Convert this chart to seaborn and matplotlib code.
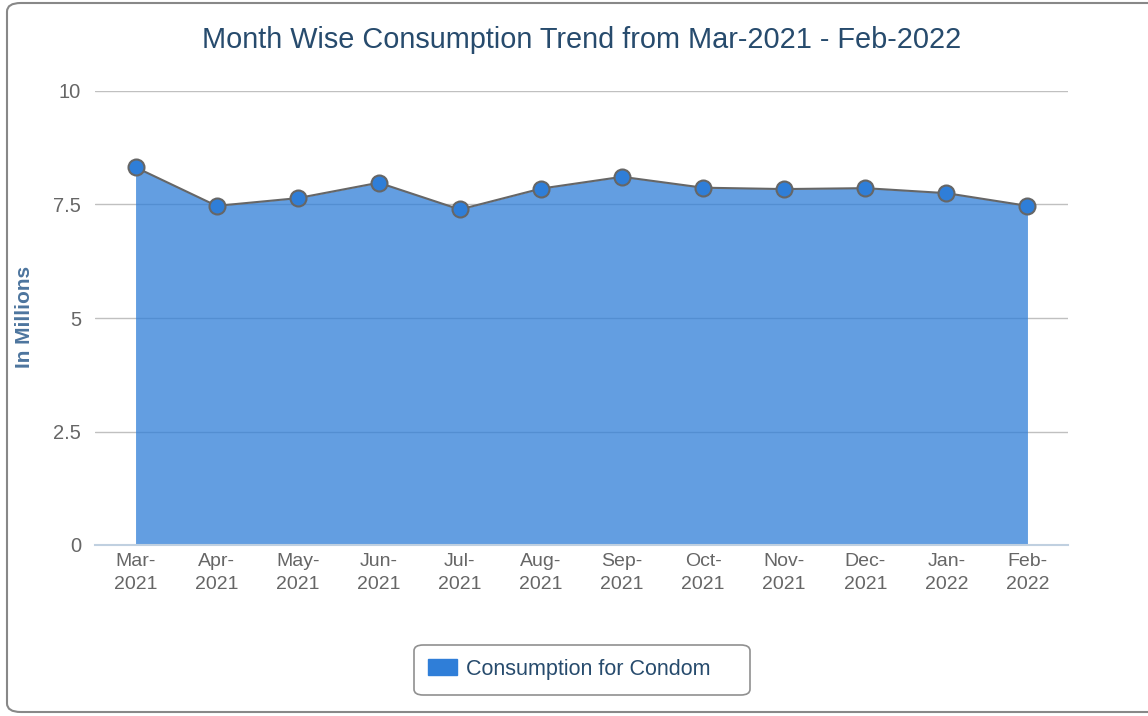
import matplotlib
matplotlib.use("Agg")
import matplotlib.pyplot as plt
from matplotlib.patches import FancyBboxPatch, Patch
import seaborn as sns
import pandas as pd

months = ["Mar-\n2021", "Apr-\n2021", "May-\n2021", "Jun-\n2021", "Jul-\n2021", "Aug-\n2021",
          "Sep-\n2021", "Oct-\n2021", "Nov-\n2021", "Dec-\n2021", "Jan-\n2022", "Feb-\n2022"]
consumption = [8.32, 7.47, 7.64, 7.98, 7.39, 7.85, 8.11, 7.87, 7.84, 7.86, 7.75, 7.47]
y_ticks = [0, 2.5, 5, 7.5, 10]
y_tick_labels = ["0", "2.5", "5", "7.5", "10"]
series_name = "Consumption for Condom"
title = "Month Wise Consumption Trend from Mar-2021 - Feb-2022"

sns.set_theme(style="white")
plt.rcParams['font.family'] = ['Liberation Sans', 'DejaVu Sans']

df = pd.DataFrame({"idx": range(len(months)), "value": consumption})

fig = plt.figure(figsize=(11.48, 7.16), dpi=100)
ax = fig.add_axes([95/1148, 1-545/716, (1068-95)/1148, (545-91)/716])

# grid
for t in y_ticks[1:]:
    ax.axhline(t, color="#c0c0c0", lw=1.0, zorder=0)

ax.fill_between(df["idx"], df["value"], 0, color="#2f7ed8", alpha=0.75, lw=0, zorder=1)
sns.lineplot(data=df, x="idx", y="value", ax=ax, color="#666666", lw=1.5, zorder=2,
             marker="o", markersize=11.5, markerfacecolor="#2f7ed8", markeredgecolor="#666666",
             markeredgewidth=1.5)

ax.set_xlim(-0.5, len(months) - 0.5)
ax.set_ylim(0, 10)
ax.set_xticks(range(len(months)))
ax.set_xticklabels(months, color="#666666", fontsize=14, linespacing=1.4)
ax.set_yticks(y_ticks)
ax.set_yticklabels(y_tick_labels, color="#666666", fontsize=14.5)
ax.tick_params(axis="x", length=6, width=1, color="#c0d0e0", pad=0)
ax.tick_params(axis="y", length=0, pad=10)
for s in ["top", "right", "left"]:
    ax.spines[s].set_visible(False)
ax.spines["bottom"].set_color("#c0d0e0")
ax.spines["bottom"].set_linewidth(1.5)
ax.set_xlabel("")
ax.set_ylabel("")

fig.text(25/1148, 1-317/716, "In Millions", rotation=90, ha="center", va="center",
         color="#4d759e", fontsize=15, fontweight="bold")

fig.text(582/1148, 1-40/716, title, ha="center", va="center", color="#274b6d", fontsize=20.8)

# outer border
border = FancyBboxPatch((7/1148, 4/716), 1160/1148, 709/716,
                        boxstyle="round,pad=0,rounding_size=0.012",
                        transform=fig.transFigure, fill=False, edgecolor="#888888", lw=1.5,
                        clip_on=False)
fig.patches.append(border)

# legend box
legbox = FancyBboxPatch((414/1148, 1-695/716), 336/1148, 50/716,
                        boxstyle="round,pad=0,rounding_size=0.008",
                        transform=fig.transFigure, fill=True, facecolor="white",
                        edgecolor="#909090", lw=1.2)
fig.patches.append(legbox)

handle = Patch(facecolor="#2f7ed8", edgecolor="#2f7ed8", label=series_name)
leg = fig.legend(handles=[handle], loc="center", bbox_to_anchor=(569/1148, 1-669/716),
                 frameon=False, fontsize=15.5, handlelength=1.35, handleheight=0.8,
                 borderpad=0, handletextpad=0.4, borderaxespad=0, labelcolor="#274b6d")

fig.savefig("out.png", dpi=100)
